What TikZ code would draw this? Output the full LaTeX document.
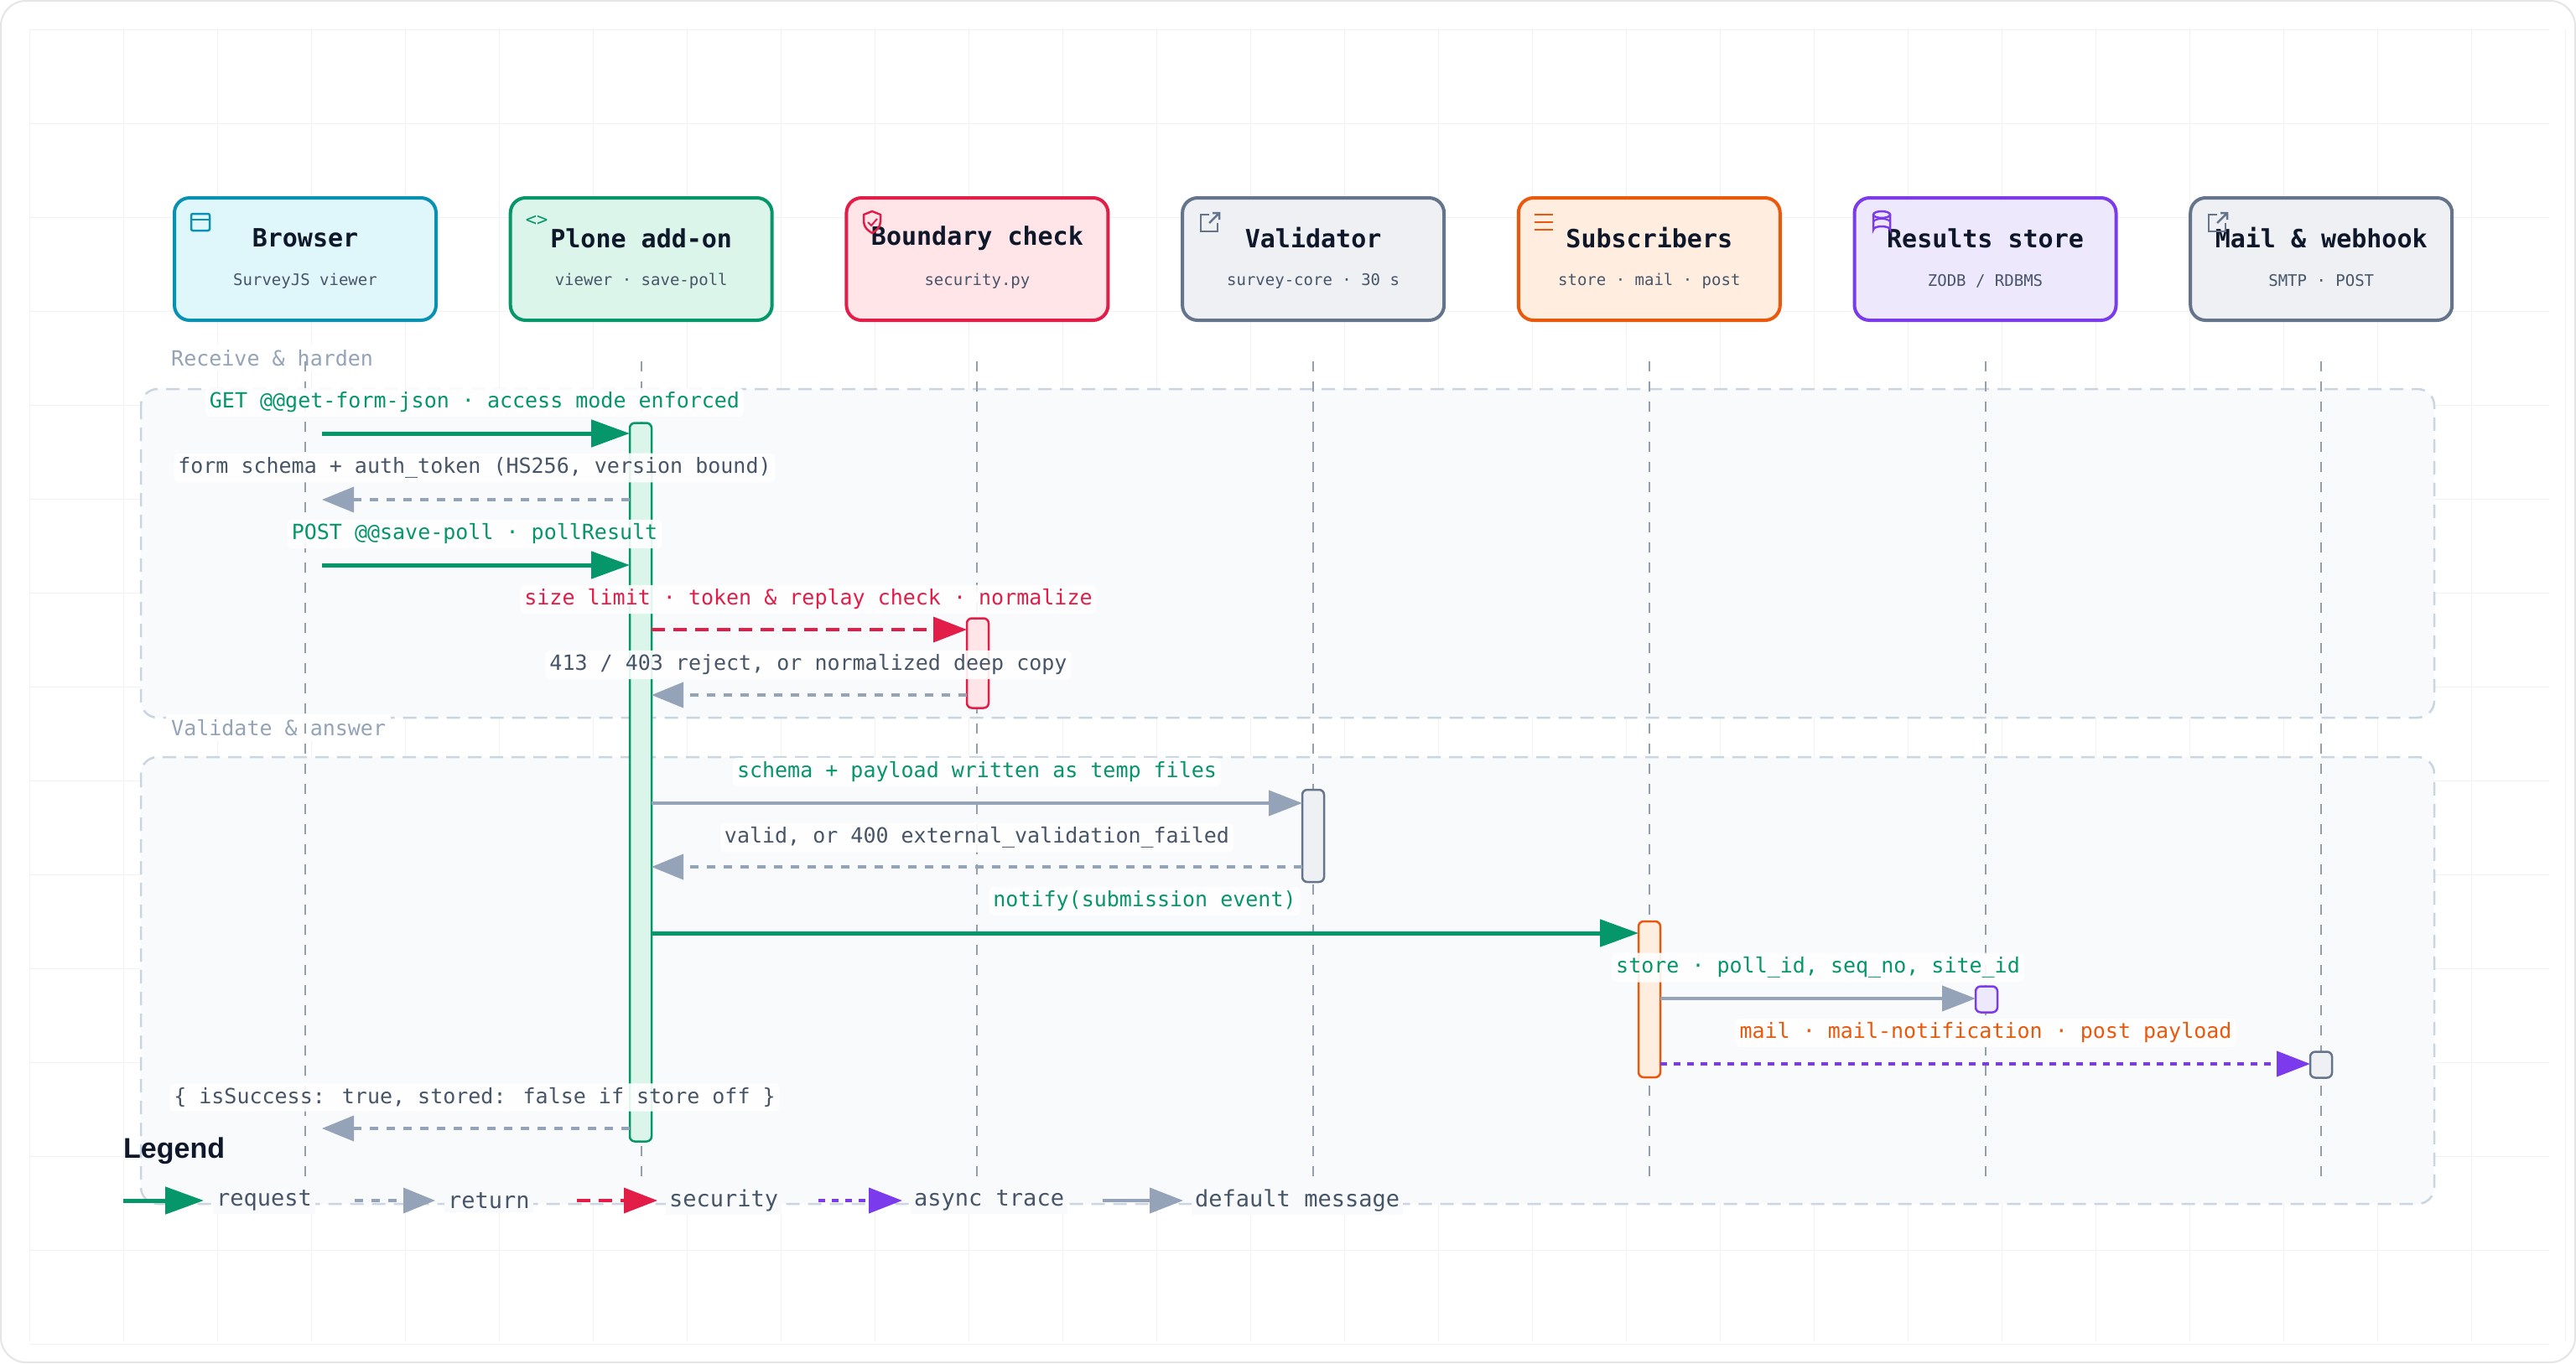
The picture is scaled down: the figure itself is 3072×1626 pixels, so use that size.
\documentclass[tikz,border=0pt]{standalone}
\usepackage{fontspec}
\setmainfont{DejaVu Sans Mono}
\newfontfamily\lgd{Liberation Sans}
\usetikzlibrary{arrows.meta}
\definecolor{cgreen}{HTML}{059669}
\definecolor{cred}{HTML}{E11D48}
\definecolor{corange}{HTML}{EA580C}
\definecolor{cpurple}{HTML}{7C3AED}
\definecolor{cslate}{HTML}{64748B}
\definecolor{ccyan}{HTML}{0891B2}
\definecolor{cret}{HTML}{94A3B8}
\definecolor{ctext}{HTML}{475569}
\definecolor{cdark}{HTML}{0F172A}
\definecolor{fcyan}{HTML}{DFF7FB}
\definecolor{fgreen}{HTML}{DCF5EA}
\definecolor{fred}{HTML}{FFE4E8}
\definecolor{fslate}{HTML}{EEF0F4}
\definecolor{forange}{HTML}{FFEEDF}
\definecolor{fpurple}{HTML}{EEE8FD}
\definecolor{grp}{HTML}{CBD5E1}
\definecolor{grpf}{HTML}{F8FAFC}
\begin{document}
\begin{tikzpicture}[x=1pt,y=-1pt,
 actor/.style={draw=#1,line width=4pt,rounded corners=18pt,minimum width=312pt,minimum height=146pt},
 ttl/.style={font=\fontsize{30}{32}\selectfont\bfseries,text=cdark},
 sub/.style={font=\fontsize{19}{21}\selectfont,text=ctext},
 life/.style={cslate!70,line width=2pt,dash pattern=on 12pt off 12pt},
 lbl/.style={fill=white,fill opacity=0.9,text opacity=1,rounded corners=6pt,inner sep=5pt,font=\fontsize{25}{27}\selectfont},
 req/.style={cgreen,line width=5pt,-{Triangle[length=46pt,width=32pt]}},
 ret/.style={cret,line width=3.5pt,dash pattern=on 10pt off 10pt,-{Triangle[length=38pt,width=30pt]}},
 sec/.style={cred,line width=3.5pt,dash pattern=on 16pt off 10pt,-{Triangle[length=40pt,width=30pt]}},
 asy/.style={cpurple,line width=4pt,dash pattern=on 8pt off 8pt,-{Triangle[length=40pt,width=30pt]}},
 dfl/.style={cret,line width=4pt,-{Triangle[length=40pt,width=30pt]}},
 act/.style={draw=#1,line width=2.5pt,rounded corners=6pt,minimum width=26pt,inner sep=0pt},
 grpbox/.style={draw=grp,line width=2.5pt,dash pattern=on 16pt off 10pt,rounded corners=20pt,fill=grpf},
 grpl/.style={fill=white,inner sep=6pt,font=\fontsize{25}{27}\selectfont,text=cret,anchor=west},
 lg/.style={font=\fontsize{27}{29}\selectfont,text=ctext,anchor=west,fill=grpf,inner sep=4pt}]
\useasboundingbox (0,0) rectangle (3072,1626);
\fill[white] (0,0) rectangle (3072,1626);
\foreach \i in {35,147,...,3072} \draw[black!5,line width=1pt] (\i,35) -- (\i,1600);
\foreach \j in {35,147,...,1626} \draw[black!5,line width=1pt] (35,\j) -- (3040,\j);
\draw[black!10,line width=2pt,rounded corners=30pt] (1,1) rectangle (3071,1625);
% groups
\draw[grpbox] (168,464) rectangle (2903,856);
\draw[grpbox] (168,903) rectangle (2903,1436);
\node[grpl] (g1) at (198,427) {Receive \& harden};
\node[grpl] (g2) at (198,868) {Validate \& answer};
% actors
\foreach \n/\c/\f/\t/\s [count=\k from 0] in {a/ccyan/fcyan/Browser/SurveyJS viewer, b/cgreen/fgreen/Plone add-on/viewer · save-poll, c/cred/fred/Boundary check/security.py, d/cslate/fslate/Validator/survey-core · 30 s, e/corange/forange/Subscribers/store · mail · post, f/cpurple/fpurple/Results store/{ZODB / RDBMS}, g/cslate/fslate/Mail \& webhook/SMTP · POST}{
 \pgfmathsetmacro\xx{364+400.7*\k}
 \node[actor=\c,fill=\f] (\n) at (\xx,309) {};
 \node[ttl] (\n t) at (\xx,284) {\t};
 \node[sub] (\n s) at (\xx,335) {\s};
 \coordinate (\n top) at (\xx,431);
 \coordinate (\n bot) at (\xx,1412);
 \draw[life] (\n top) -- (\n bot);
}
% icons
\draw[ccyan,line width=2.5pt,rounded corners=2pt] (228,255) rectangle (250,275); \draw[ccyan,line width=2.5pt] (228,262)--(250,262);
\node[text=cgreen,font=\fontsize{22}{22}\selectfont] (ib) at (640,263) {<>};
\draw[cred,line width=2.5pt,line join=round] (1030,256) -- (1040,252) -- (1050,256) -- (1050,264) .. controls (1050,271) and (1045,275) .. (1040,278) .. controls (1035,275) and (1030,271) .. (1030,264) -- cycle;
\draw[cred,line width=2pt] (1035,265)--(1039,269)--(1046,261);
\draw[cslate,line width=2.5pt] (1442,256) -- (1432,256) -- (1432,276) -- (1452,276) -- (1452,266); \draw[cslate,line width=2.5pt] (1442,266)--(1454,254) (1446,254)--(1454,254)--(1454,262);
\draw[corange,line width=2.5pt] (1830,256)--(1852,256) (1830,265)--(1852,265) (1830,274)--(1852,274);
\draw[cpurple,line width=2.5pt] (2244,256) ellipse (10pt and 4pt); \draw[cpurple,line width=2.5pt] (2234,256)--(2234,274) arc[start angle=180,end angle=360,x radius=10pt,y radius=-4pt] -- (2254,256); \draw[cpurple,line width=2pt] (2234,265) arc[start angle=180,end angle=360,x radius=10pt,y radius=-4pt];
\draw[cslate,line width=2.5pt] (2644,256) -- (2634,256) -- (2634,276) -- (2654,276) -- (2654,266); \draw[cslate,line width=2.5pt] (2644,266)--(2656,254) (2648,254)--(2656,254)--(2656,262);
% activations
\node[act=cgreen,fill=fgreen,minimum height=857pt] (ab) at (764,933) {};
\node[act=cred,fill=fred,minimum height=107pt] (ac) at (1166,791) {};
\node[act=cslate,fill=fslate,minimum height=110pt] (ad) at (1566,997) {};
\node[act=corange,fill=forange,minimum height=186pt] (ae) at (1967,1192) {};
\node[act=cpurple,fill=fpurple,minimum height=31pt] (af) at (2369,1192) {};
\node[act=cslate,fill=fslate,minimum height=31pt] (ag) at (2768,1270) {};
% endpoints
\coordinate (p1) at (384,517); \coordinate (q1) at (751,517);
\coordinate (p2) at (751,596); \coordinate (q2) at (384,596);
\coordinate (p3) at (384,674); \coordinate (q3) at (751,674);
\coordinate (p4) at (777,751); \coordinate (q4) at (1153,751);
\coordinate (p5) at (1153,829); \coordinate (q5) at (777,829);
\coordinate (p6) at (777,958); \coordinate (q6) at (1553,958);
\coordinate (p7) at (1553,1034); \coordinate (q7) at (777,1034);
\coordinate (p8) at (777,1113); \coordinate (q8) at (1954,1113);
\coordinate (p9) at (1980,1191); \coordinate (q9) at (2356,1191);
\coordinate (p10) at (1980,1269); \coordinate (q10) at (2755,1269);
\coordinate (p11) at (751,1346); \coordinate (q11) at (384,1346);
\draw[req] (p1)--(q1); \draw[ret] (p2)--(q2); \draw[req] (p3)--(q3);
\draw[sec] (p4)--(q4); \draw[ret] (p5)--(q5); \draw[dfl] (p6)--(q6);
\draw[ret] (p7)--(q7); \draw[req] (p8)--(q8); \draw[dfl] (p9)--(q9);
\draw[asy] (p10)--(q10); \draw[ret] (p11)--(q11);
% labels
\node[lbl,text=cgreen] (l1) at (566,480) {GET @@get-form-json · access mode enforced};
\node[lbl,text=ctext] (l2) at (566,558) {form schema + auth\_token (HS256, version bound)};
\node[lbl,text=cgreen] (l3) at (566,637) {POST @@save-poll · pollResult};
\node[lbl,text=cred] (l4) at (964,715) {size limit · token \& replay check · normalize};
\node[lbl,text=ctext] (l5) at (964,793) {413 / 403 reject, or normalized deep copy};
\node[lbl,text=cgreen] (l6) at (1165,921) {schema + payload written as temp files};
\node[lbl,text=ctext] (l7) at (1165,999) {valid, or 400 external\_validation\_failed};
\node[lbl,text=cgreen] (l8) at (1365,1075) {notify(submission event)};
\node[lbl,text=cgreen] (l9) at (2168,1154) {store · poll\_id, seq\_no, site\_id};
\node[lbl,text=corange] (l10) at (2368,1232) {mail · mail-notification · post payload};
\node[lbl,text=ctext] (l11) at (566,1309) {\{ isSuccess: true, stored: false if store off \}};
% legend
\node[font=\lgd\fontsize{34}{36}\selectfont\bfseries,text=cdark,anchor=west,inner sep=0pt] (lt) at (147,1373) {Legend};
\coordinate (la1) at (147,1432); \coordinate (lb1) at (243,1432);
\coordinate (la2) at (423,1432); \coordinate (lb2) at (519,1432);
\coordinate (la3) at (688,1432); \coordinate (lb3) at (784,1432);
\coordinate (la4) at (976,1432); \coordinate (lb4) at (1076,1432);
\coordinate (la5) at (1315,1432); \coordinate (lb5) at (1411,1432);
\node[lg] (t1) at (254,1432) {request};
\node[lg] (t2) at (530,1432) {return};
\node[lg] (t3) at (794,1432) {security};
\node[lg] (t4) at (1086,1432) {async trace};
\node[lg] (t5) at (1421,1432) {default message};
\draw[req] (la1)--(lb1); \draw[ret] (la2)--(lb2); \draw[sec] (la3)--(lb3); \draw[asy] (la4)--(lb4); \draw[dfl] (la5)--(lb5);
\end{tikzpicture}
\end{document}
